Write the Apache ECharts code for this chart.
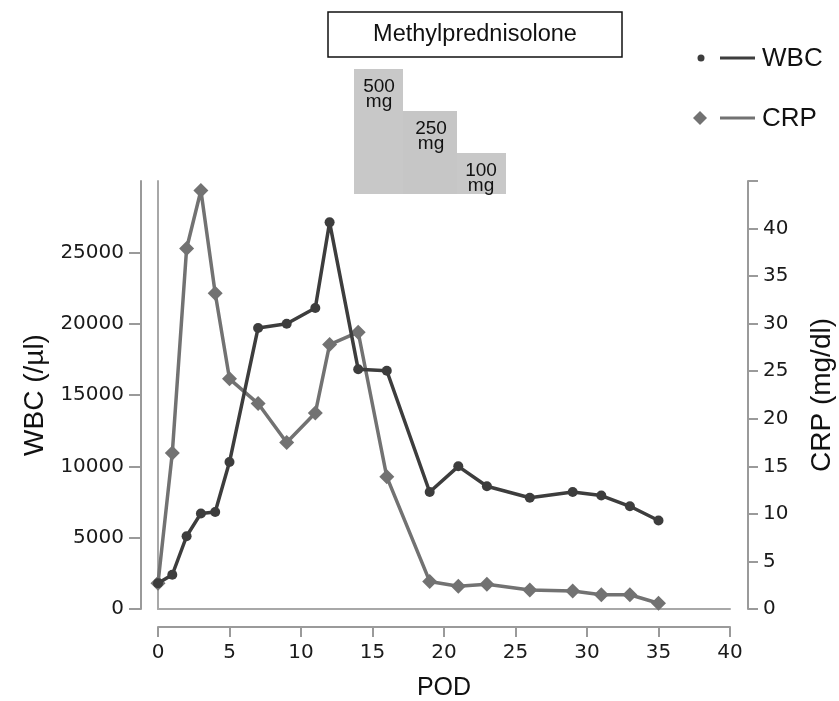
<!DOCTYPE html>
<html>
<head>
<meta charset="utf-8">
<title>WBC / CRP</title>
<script src="https://cdn.jsdelivr.net/npm/echarts@6.0.0/dist/echarts.min.js"></script>
<style>
  html, body { margin: 0; padding: 0; background: #fff; }
  #chart { width: 839px; height: 701px; }
</style>
</head>
<body>
<div id="chart"></div>
<script>
// postoperative day
const pod = [0, 1, 2, 3, 4, 5, 7, 9, 11, 12, 14, 16, 19, 21, 23, 26, 29, 31, 33, 35]
// WBC (/µl)
const wbc = [1800, 2400, 5100, 6700, 6800, 10300, 19700, 20000, 21100, 27100, 16800, 16700, 8200, 10000, 8600, 7800, 8200, 7950, 7200, 6200]
// CRP (mg/dl)
const crp = [2.7, 16.4, 37.9, 44.0, 33.2, 24.2, 21.6, 17.5, 20.6, 27.8, 29.1, 13.9, 2.9, 2.4, 2.6, 2.0, 1.9, 1.5, 1.5, 0.6]

const podTicks = [0, 5, 10, 15, 20, 25, 30, 35, 40]
const wbcTicks = [0, 5000, 10000, 15000, 20000, 25000]
const crpTicks = [0, 5, 10, 15, 20, 25, 30, 35, 40]
const crpTickMarks = crpTicks.concat([45]) // top of right axis has a tick but no label

const doses = ['500\nmg', '250\nmg', '100\nmg']

const WBC_COLOR = '#3d3d3d'
const CRP_COLOR = '#727272'
const AXIS_COLOR = '#9a9a9a'
const numFont = 'DejaVu Sans'
const txtFont = 'Liberation Sans'

const myChart = echarts.init(document.getElementById('chart'))

const axisLabelStyle = {
  fontFamily: numFont,
  fontSize: 20,
  color: '#1a1a1a',
  formatter: v => String(v) // no thousands separator
}
const nameStyle = {
  fontFamily: txtFont,
  fontSize: 28,
  color: '#111'
}
const axisLine = { show: true, onZero: false, lineStyle: { color: AXIS_COLOR, width: 2 } }
const innerLine = { show: true, onZero: false, lineStyle: { color: '#a8a8a8', width: 2 } }
const doseStyle = { fontFamily: txtFont, fontSize: 19, lineHeight: 15, fill: '#111', align: 'center', verticalAlign: 'middle' }

const option = {
  animation: false,
  backgroundColor: '#fff',
  grid: {
    left: 158,
    right: 109,
    top: 181,
    bottom: 92,
    containLabel: false,
    outerBoundsMode: 'none' // keep the plot box where it is
  },
  xAxis: [
    {
      type: 'value',
      min: 0,
      max: 40,
      interval: 5,
      offset: 18,
      name: 'POD',
      nameLocation: 'middle',
      nameGap: 49,
      nameTextStyle: Object.assign({}, nameStyle, { fontSize: 25 }),
      axisLine: axisLine,
      axisTick: { show: true, length: 10, lineStyle: { color: AXIS_COLOR, width: 2 }, customValues: podTicks },
      axisLabel: Object.assign({ margin: 16, customValues: podTicks }, axisLabelStyle),
      splitLine: { show: false }
    },
    {
      // inner baseline of the plot area
      type: 'value',
      min: 0,
      max: 40,
      position: 'bottom',
      offset: 0,
      axisLine: innerLine,
      axisTick: { show: false },
      axisLabel: { show: false },
      splitLine: { show: false }
    }
  ],
  yAxis: [
    {
      type: 'value',
      position: 'left',
      min: 0,
      max: 30000,
      offset: 17,
      name: 'WBC (/µl)',
      nameLocation: 'middle',
      nameRotate: 90,
      nameGap: 92,
      nameTextStyle: nameStyle,
      axisLine: axisLine,
      axisTick: { show: true, length: 12, lineStyle: { color: AXIS_COLOR, width: 2 }, customValues: wbcTicks },
      axisLabel: Object.assign({ margin: 17, customValues: wbcTicks }, axisLabelStyle),
      splitLine: { show: false }
    },
    {
      type: 'value',
      position: 'right',
      min: 0,
      max: 45,
      offset: 18,
      name: 'CRP (mg/dl)',
      nameLocation: 'middle',
      nameRotate: 90,
      nameGap: 60,
      nameTextStyle: nameStyle,
      axisLine: axisLine,
      axisTick: { show: true, length: 10, lineStyle: { color: AXIS_COLOR, width: 2 }, customValues: crpTickMarks },
      axisLabel: Object.assign({ margin: 15, customValues: crpTicks }, axisLabelStyle),
      splitLine: { show: false }
    },
    {
      // inner left edge of the plot area
      type: 'value',
      position: 'left',
      min: 0,
      max: 30000,
      offset: 0,
      axisLine: innerLine,
      axisTick: { show: false },
      axisLabel: { show: false },
      splitLine: { show: false }
    }
  ],
  series: [
    {
      name: 'CRP',
      type: 'line',
      xAxisIndex: 0,
      yAxisIndex: 1,
      data: pod.map((d, i) => [d, crp[i]]),
      symbol: 'diamond',
      symbolSize: 15,
      z: 2,
      lineStyle: { color: CRP_COLOR, width: 3.5 },
      itemStyle: { color: CRP_COLOR }
    },
    {
      name: 'WBC',
      type: 'line',
      xAxisIndex: 0,
      yAxisIndex: 0,
      data: pod.map((d, i) => [d, wbc[i]]),
      symbol: 'circle',
      symbolSize: 10,
      z: 3,
      lineStyle: { color: WBC_COLOR, width: 3.5 },
      itemStyle: { color: WBC_COLOR }
    }
  ],
  graphic: [
    // Methylprednisolone box
    {
      type: 'rect',
      shape: { x: 328, y: 12, width: 294, height: 45 },
      style: { fill: '#fff', stroke: '#111', lineWidth: 1.5 }
    },
    {
      type: 'text',
      x: 475,
      y: 35,
      style: { text: 'Methylprednisolone', fontFamily: txtFont, fontSize: 23.5, fill: '#111', align: 'center', verticalAlign: 'middle' }
    },
    // dose steps
    { type: 'rect', shape: { x: 354, y: 69, width: 49, height: 125 }, style: { fill: '#c8c8c8' } },
    { type: 'rect', shape: { x: 403, y: 111, width: 54, height: 83 }, style: { fill: '#c6c6c6' } },
    { type: 'rect', shape: { x: 457, y: 153, width: 49, height: 41 }, style: { fill: '#c8c8c8' } },
    { type: 'text', x: 379, y: 94, style: Object.assign({ text: doses[0] }, doseStyle) },
    { type: 'text', x: 431, y: 136, style: Object.assign({ text: doses[1] }, doseStyle) },
    { type: 'text', x: 481, y: 178, style: Object.assign({ text: doses[2] }, doseStyle) },
    // legend
    { type: 'circle', shape: { cx: 701, cy: 58, r: 3.5 }, style: { fill: WBC_COLOR } },
    { type: 'line', shape: { x1: 720, y1: 58, x2: 755, y2: 58 }, style: { stroke: WBC_COLOR, lineWidth: 3 } },
    { type: 'text', x: 762, y: 59, style: { text: 'WBC', fontFamily: txtFont, fontSize: 26, fill: '#111', verticalAlign: 'middle' } },
    { type: 'polygon', shape: { points: [[700, 111], [707, 118], [700, 125], [693, 118]] }, style: { fill: CRP_COLOR } },
    { type: 'line', shape: { x1: 720, y1: 118, x2: 755, y2: 118 }, style: { stroke: CRP_COLOR, lineWidth: 3 } },
    { type: 'text', x: 762, y: 119, style: { text: 'CRP', fontFamily: txtFont, fontSize: 26, fill: '#111', verticalAlign: 'middle' } }
  ]
}

myChart.setOption(option)
</script>
</body>
</html>
